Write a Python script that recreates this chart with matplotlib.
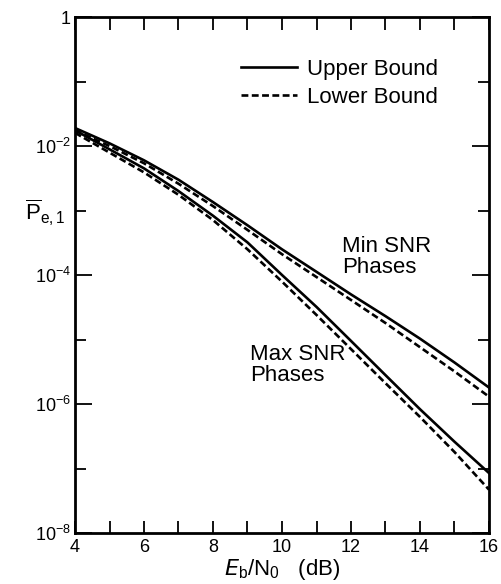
import matplotlib as mpl
mpl.use('Agg')
import matplotlib.pyplot as plt
from matplotlib.ticker import FixedLocator, NullFormatter

plt.rcParams['font.family'] = ['Liberation Sans', 'DejaVu Sans']
plt.rcParams['mathtext.fontset'] = 'custom'
plt.rcParams['mathtext.rm'] = 'Liberation Sans'
plt.rcParams['mathtext.it'] = 'Liberation Sans:italic'
plt.rcParams['mathtext.cal'] = 'DejaVu Sans:italic'

# Eb/N0 in dB
ebno = [4, 5, 6, 7, 8, 9, 10, 11, 12, 13, 14, 15, 16]

# min SNR phases
min_upper = [1.9e-2, 1.1e-2, 6.0e-3, 3.0e-3, 1.35e-3, 5.9e-4, 2.5e-4, 1.12e-4,
             5.0e-5, 2.3e-5, 1.03e-5, 4.4e-6, 1.8e-6]
min_lower = [1.75e-2, 1.0e-2, 5.4e-3, 2.6e-3, 1.17e-3, 5.0e-4, 2.1e-4, 9.3e-5,
             4.1e-5, 1.8e-5, 7.6e-6, 3.2e-6, 1.3e-6]
# max SNR phases
max_upper = [1.75e-2, 8.9e-3, 4.5e-3, 2.0e-3, 8.3e-4, 3.2e-4, 1.0e-4, 3.2e-5,
             9.5e-6, 2.8e-6, 8.3e-7, 2.6e-7, 8.5e-8]
max_lower = [1.6e-2, 7.9e-3, 3.9e-3, 1.75e-3, 7.1e-4, 2.5e-4, 7.9e-5, 2.4e-5,
             7.1e-6, 2.1e-6, 6.3e-7, 1.8e-7, 4.7e-8]

ytick_vals = [1e-8, 1e-6, 1e-4, 1e-2, 1]
ytick_labels = ['$10^{-8}$', '$10^{-6}$', '$10^{-4}$', '$10^{-2}$', '1']
xtick_vals = [4, 6, 8, 10, 12, 14, 16]

fig = plt.figure(figsize=(5.01, 5.84), dpi=100)
ax = fig.add_axes([75/501, 1-533/584, (489-75)/501, (533-17)/584])

lw = 1.9
dash = (0, (2.6, 1.3))
ax.plot(ebno, min_upper, color='black', lw=lw, label='Upper Bound')
ax.plot(ebno, min_lower, color='black', lw=lw, linestyle=dash, label='Lower Bound')
ax.plot(ebno, max_upper, color='black', lw=lw)
ax.plot(ebno, max_lower, color='black', lw=lw, linestyle=dash)

ax.set_yscale('log')
ax.set_xlim(4, 16)
ax.set_ylim(1e-8, 1)

ax.xaxis.set_major_locator(FixedLocator(xtick_vals))
ax.xaxis.set_minor_locator(FixedLocator([5, 7, 9, 11, 13, 15]))
ax.yaxis.set_major_locator(FixedLocator(ytick_vals))
ax.set_yticklabels(ytick_labels)
ax.yaxis.set_minor_locator(FixedLocator([1e-7, 1e-5, 1e-3, 1e-1]))
ax.yaxis.set_minor_formatter(NullFormatter())

ax.tick_params(which='both', direction='in', width=1.3, top=True, right=True)
ax.tick_params(axis='y', which='major', length=12, labelsize=13, pad=3)
ax.tick_params(axis='y', which='minor', length=8)
ax.tick_params(axis='x', which='both', length=9)
ax.tick_params(axis='x', which='major', labelsize=13, pad=4)
for s in ax.spines.values():
    s.set_linewidth(2)

ax.set_xlabel(r'$\mathcal{E}_{\rm b}/{\rm N}_0$   (dB)', fontsize=16, labelpad=1)
fig.text(25/501, 1-212/584, r'$\overline{\rm P}_{\rm e,1}$', fontsize=16,
         ha='left', va='center')

ax.text(342/501, 1-257/584, 'Min SNR\nPhases', transform=fig.transFigure,
        fontsize=16, ha='left', va='center', linespacing=1.0)
ax.text(250/501, 1-365/584, 'Max SNR\nPhases', transform=fig.transFigure,
        fontsize=16, ha='left', va='center', linespacing=1.0)

ax.legend(loc='upper left', bbox_to_anchor=(241/501, 1-59/584),
          bbox_transform=fig.transFigure, frameon=False, fontsize=16,
          handlelength=2.5, handletextpad=0.45, labelspacing=0.3, borderpad=0,
          borderaxespad=0)

fig.savefig('out.png', dpi=100)
